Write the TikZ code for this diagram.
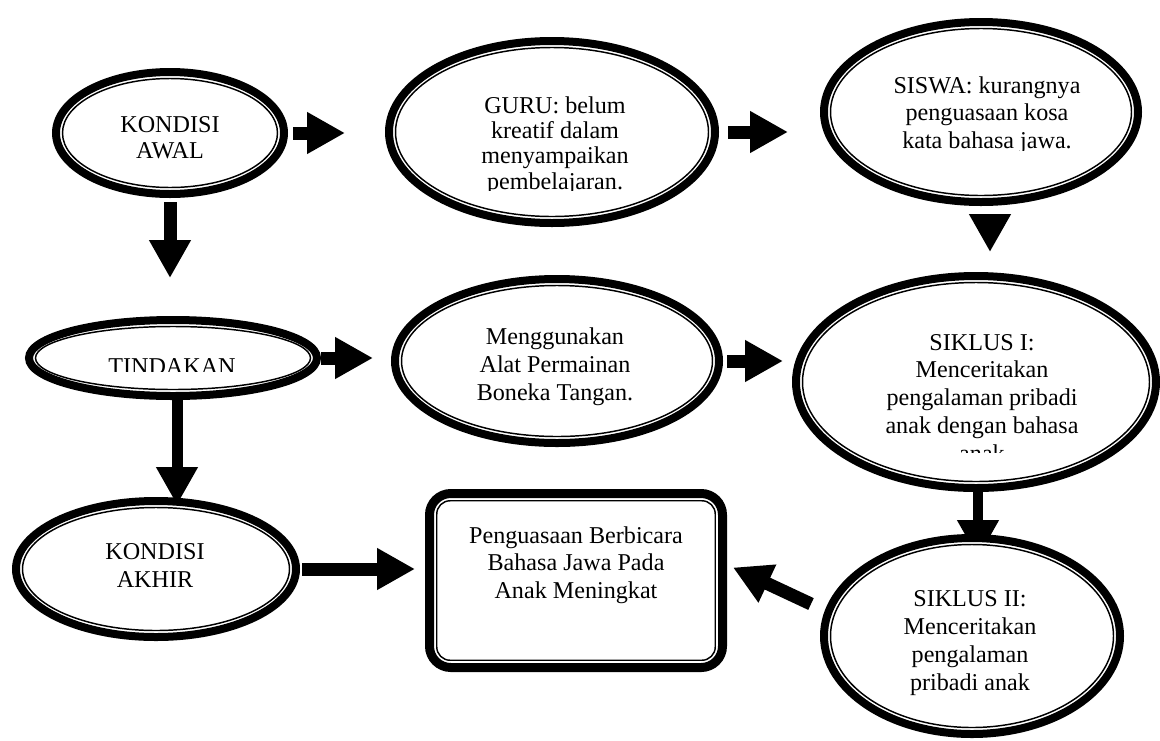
\documentclass[tikz,border=0pt]{standalone}
\usepackage{fontspec}
\setmainfont{Liberation Serif}
\usetikzlibrary{shapes.geometric,arrows.meta,calc}
\pgfdeclarelayer{bg}
\pgfsetlayers{bg,main}
\tikzset{
  ell/.style={ellipse, draw, line width=6pt, fill=white, inner sep=0pt},
  thinline/.style={line width=1.1pt},
  txt/.style={align=center, inner sep=0pt, anchor=base, font=\fontsize{18.1pt}{20.6pt}\selectfont},
  arr/.style={line width=9.75pt, -{Triangle[length=28.5pt,width=29.5pt]}},
}
% name, cx, cy, rx, ry (outer radii in px)
\newcommand\ellnode[5]{%
  \node[ell, minimum width={1.5*(#4-4)*1pt}, minimum height={1.5*(#5-4)*1pt}] (#1) at (#2,#3) {};
  \draw[thinline] (#1.center) ellipse ({0.75*(#4-10.5)*1pt} and {0.75*(#5-10.5)*1pt});
}
\begin{document}
\begin{tikzpicture}[x=0.75pt,y=-0.75pt]
\useasboundingbox (0,0) rectangle (1160,740);

% nodes
\ellnode{AWAL}{170}{133}{118}{65}
\ellnode{GURU}{552}{132}{167}{95}
\ellnode{SISWA}{981}{112}{161}{94}
\ellnode{TIND}{173}{358}{148}{42}
\ellnode{MENG}{557}{361}{166}{86}
\ellnode{S1}{976}{382}{184}{110}
\ellnode{S2}{972}{636}{152}{102}
\ellnode{AKHIR}{156}{569}{144}{72}
\node[draw, line width=6.75pt, rounded corners=16pt, fill=white, inner sep=0pt,
      minimum width=219.75pt, minimum height=130.5pt] (RES) at (576,580.5) {};
\draw[thinline, rounded corners=10pt] ([shift={(11.75,11.75)}]RES.north west) rectangle ([shift={(-11.75,-11.75)}]RES.south east);

% texts (anchored at the baseline of the last line)
\node[txt, font=\fontsize{18.1pt}{19.5pt}\selectfont] (AWALt) at (170,158) {KONDISI\\AWAL};
\begin{scope}
  \clip (400,60) rectangle (710,190);
  \node[txt, font=\fontsize{18.1pt}{18.9pt}\selectfont] (GURUt) at (555,189) {GURU: belum\\kreatif dalam\\menyampaikan\\pembelajaran.};
\end{scope}
\begin{scope}
  \clip (840,40) rectangle (1130,150);
  \node[txt] (SISWAt) at (987,148) {SISWA: kurangnya\\penguasaan kosa\\kata bahasa jawa.};
\end{scope}
\begin{scope}
  \clip (40,330) rectangle (310,371);
  \node[txt] (TINDt) at (172,374) {TINDAKAN};
\end{scope}
\node[txt, font=\fontsize{18.1pt}{21pt}\selectfont] (MENGt) at (555,400) {Menggunakan\\Alat Permainan\\Boneka Tangan.};
\begin{scope}
  \clip (800,300) rectangle (1150,452);
  \node[txt, font=\fontsize{18.1pt}{20.8pt}\selectfont] (S1t) at (982,461) {SIKLUS I:\\Menceritakan\\pengalaman pribadi\\anak dengan bahasa\\anak};
\end{scope}
\node[txt, font=\fontsize{18.1pt}{20.8pt}\selectfont] (S2t) at (970,690) {SIKLUS II:\\Menceritakan\\pengalaman\\pribadi anak};
\node[txt] (AKHIRt) at (155,587) {KONDISI\\AKHIR};
\node[txt] (RESt) at (576,598) {Penguasaan Berbicara\\Bahasa Jawa Pada\\Anak Meningkat};

% connectors (behind the shapes)
\coordinate (c3) at (990,0);
\coordinate (c7) at (177,0);
\coordinate (c8) at (978,0);
\begin{pgfonlayer}{bg}
  \fill[white] (0,0) rectangle (1160,740);
  \draw[arr, shorten <=3.75pt, shorten >=30pt] (AWAL.east) -- (AWAL.east -| GURU.west);
  \draw[arr, shorten <=6.75pt, shorten >=24pt] (GURU.east) -- (GURU.east -| SISWA.west);
  \draw[arr, shorten <=6pt, shorten >=15pt] (SISWA.south -| c3) -- (S1.north -| c3);
  \draw[arr, shorten <=3pt, shorten >=28.5pt] (AWAL.south) -- (AWAL.south |- TIND.north);
  \draw[arr, shorten >=13.5pt] (TIND.east) -- (TIND.east -| MENG.west);
  \draw[arr, shorten <=3pt, shorten >=6.75pt] (MENG.east) -- (MENG.east -| S1.west);
  \draw[arr, line width=8.25pt, shorten >=-6pt] (TIND.south -| c7) -- (AKHIR.north -| c7);
  \draw[arr, line width=7.5pt, shorten <=-3pt, shorten >=-18pt] (S1.south -| c8) -- (S2.north -| c8);
  \draw[arr] ([shift={(-9,-32)}]S2.west) -- ([shift={(6,-13)}]RES.east);
  \draw[arr, shorten <=1.5pt, shorten >=7.5pt] (AKHIR.east) -- (AKHIR.east -| RES.west);
\end{pgfonlayer}
\end{tikzpicture}
\end{document}
